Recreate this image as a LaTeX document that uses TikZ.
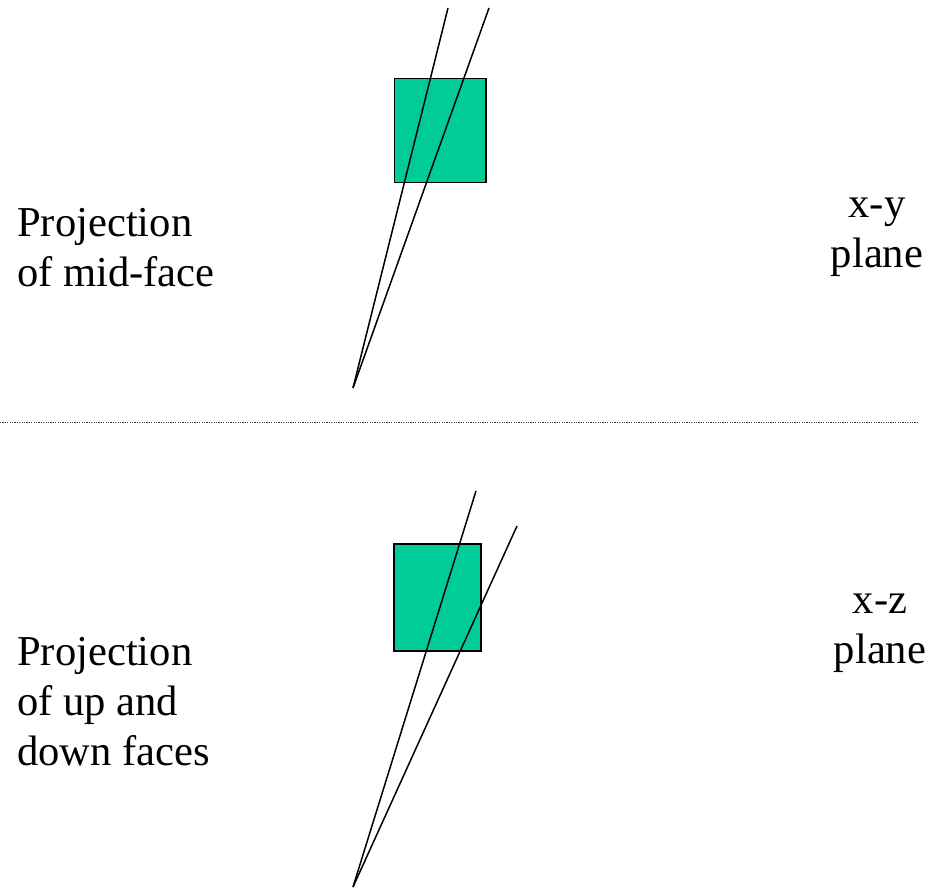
\documentclass[tikz,border=0pt]{standalone}
\usepackage{fontspec}
\setmainfont{LiberationSerif}[Extension=.ttf, UprightFont=*-Regular]
\usetikzlibrary{positioning}
\definecolor{facegreen}{HTML}{00CC99}

\begin{document}
\begin{tikzpicture}[
  x=1pt, y=-1pt,
  face/.style={rectangle, draw=black, fill=facegreen, line width=1.5pt, inner sep=0pt, anchor=north west},
  ray/.style={line width=1.5pt, black},
  caption/.style={font=\rmfamily\fontsize{42.6}{50}\selectfont, inner sep=0pt},
  divider/.style={line width=1pt, dash pattern=on 1.2pt off 1.2pt, black!80},
]
  \useasboundingbox (0,0) rectangle (937,890);

  % x-y plane
  \node[face, minimum width=91.5pt, minimum height=104pt] (midface) at (393.5,78) {};
  \coordinate (xyapex) at (353,388);
  \coordinate (xytopa) at (448,8);
  \coordinate (xytopb) at (489,8);
  \draw[ray] (xyapex) -- (xytopa);
  \draw[ray] (xyapex) -- (xytopb);
  \node[caption, anchor=base west, align=left] (xytext) at (17,287) {Projection\\of mid-face};
  \node[caption, anchor=base, align=center] (xyname) at (877,268) {x-y\\plane};

  % divider
  \coordinate (divl) at (0,422);
  \coordinate (divr) at (918,422);
  \draw[divider] (divl) -- (divr);

  % x-z plane
  \node[face, minimum width=87pt, minimum height=107pt] (updown) at (393,543) {};
  \coordinate (xzapex) at (353,887);
  \coordinate (xztopa) at (476,491);
  \coordinate (xztopb) at (517,526);
  \draw[ray] (xzapex) -- (xztopa);
  \draw[ray] (xzapex) -- (xztopb);
  \node[caption, anchor=base west, align=left] (xztext) at (17,765) {Projection\\of up and\\down faces};
  \node[caption, anchor=base, align=center] (xzname) at (880,663) {x-z\\plane};
\end{tikzpicture}
\end{document}
